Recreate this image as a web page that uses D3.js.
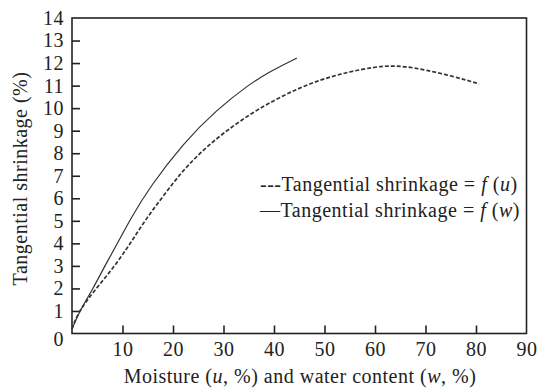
<!DOCTYPE html>
<html>
<head>
<meta charset="utf-8">
<script src="https://cdnjs.cloudflare.com/ajax/libs/d3/7.8.5/d3.min.js"></script>
<style>
  body { margin: 0; background: #fff; }
  text { font-family: "Liberation Serif", "Times New Roman", serif; fill: #222; letter-spacing: 0.5px; }
</style>
</head>
<body>
<div id="chart"></div>
<script>
// dashed curve: shrinkage vs moisture u
const moistureU = [0, 1.3, 4.8, 8.5, 11.7, 14.7, 18.4, 22, 26, 30, 35, 40, 45, 50, 55, 60, 63, 66, 70, 75.7, 80.6];
const shrinkU   = [0.2, 1, 2, 3, 4.05, 5.1, 6.2, 7.25, 8.15, 8.9, 9.7, 10.35, 10.9, 11.32, 11.62, 11.83, 11.88, 11.85, 11.7, 11.4, 11.08];

// solid curve: shrinkage vs water content w
const waterW  = [0, 1.5, 4.2, 6.5, 9, 11.6, 15.4, 22, 28.6, 35.2, 39.2, 42.5, 44.5];
const shrinkW = [0.2, 1, 2, 3, 4, 5.1, 6.5, 8.44, 9.92, 11.08, 11.62, 12.0, 12.22];

const xTicks = [10, 20, 30, 40, 50, 60, 70, 80, 90];
const yTicks = [0, 1, 2, 3, 4, 5, 6, 7, 8, 9, 10, 11, 12, 13, 14];

const width = 540;
const height = 392;
const fontSize = 20;

const svg = d3.select("#chart")
  .append("svg")
  .attr("width", width)
  .attr("height", height);

const xScale = d3.scaleLinear()
  .domain([0, 90])
  .range([72, 526.5]);

const yScale = d3.scaleLinear()
  .domain([0, 14])
  .range([333.5, 18]);

// frame
svg.append("rect")
  .attr("x", xScale(0))
  .attr("y", yScale(14))
  .attr("width", xScale(90) - xScale(0))
  .attr("height", yScale(0) - yScale(14))
  .attr("fill", "none")
  .attr("stroke", "#222")
  .attr("stroke-width", 1.6);

const xAxis = d3.axisBottom(xScale)
  .tickValues(xTicks)
  .tickSizeInner(-8)
  .tickSizeOuter(0)
  .tickPadding(8);

const yAxis = d3.axisLeft(yScale)
  .tickValues(yTicks)
  .tickSizeInner(-8)
  .tickSizeOuter(0)
  .tickPadding(8);

const gx = svg.append("g")
  .attr("transform", `translate(0, ${yScale(0)})`)
  .call(xAxis);

const gy = svg.append("g")
  .attr("transform", `translate(${xScale(0)}, 0)`)
  .call(yAxis);

[gx, gy].forEach(g => {
  g.select(".domain").remove();
  g.selectAll(".tick line").attr("stroke", "#222").attr("stroke-width", 1.6);
  g.selectAll(".tick text")
    .attr("font-family", "Liberation Serif")
    .attr("font-size", fontSize)
    .attr("fill", "#222");
});
// no inner tick marks at the corners
gx.selectAll(".tick").filter(d => d === 90).select("line").remove();
gy.selectAll(".tick").filter(d => d === 0 || d === 14).select("line").remove();
gy.selectAll(".tick").filter(d => d === 0).select("text").attr("dy", "0.62em");

// curves
const line = d3.line()
  .x(d => xScale(d[0]))
  .y(d => yScale(d[1]))
  .curve(d3.curveBasis);

svg.append("path")
  .datum(d3.zip(moistureU, shrinkU))
  .attr("d", line)
  .attr("fill", "none")
  .attr("stroke", "#333")
  .attr("stroke-width", 1.7)
  .attr("stroke-dasharray", "4,2");

svg.append("path")
  .datum(d3.zip(waterW, shrinkW))
  .attr("d", line)
  .attr("fill", "none")
  .attr("stroke", "#333")
  .attr("stroke-width", 1.2);

// legend
const legendItems = [
  { mark: "---", v: "u", y: 191 },
  { mark: "\u2014", v: "w", y: 217 }
];

legendItems.forEach(item => {
  const t = svg.append("text")
    .attr("x", 260)
    .attr("y", item.y)
    .attr("font-size", fontSize);
  t.append("tspan").text(item.mark + "Tangential shrinkage = ");
  t.append("tspan").attr("font-style", "italic").text("f");
  t.append("tspan").text(" (");
  t.append("tspan").attr("font-style", "italic").text(item.v);
  t.append("tspan").text(")");
});

// axis titles
const xTitle = svg.append("text")
  .attr("x", 300)
  .attr("y", 383)
  .attr("text-anchor", "middle")
  .attr("font-size", fontSize);
xTitle.append("tspan").text("Moisture (");
xTitle.append("tspan").attr("font-style", "italic").text("u");
xTitle.append("tspan").text(", %) and water content (");
xTitle.append("tspan").attr("font-style", "italic").text("w");
xTitle.append("tspan").text(", %)");

svg.append("text")
  .attr("transform", "translate(27, 178.5) rotate(-90)")
  .attr("text-anchor", "middle")
  .attr("font-size", fontSize)
  .text("Tangential shrinkage (%)");
</script>
</body>
</html>
